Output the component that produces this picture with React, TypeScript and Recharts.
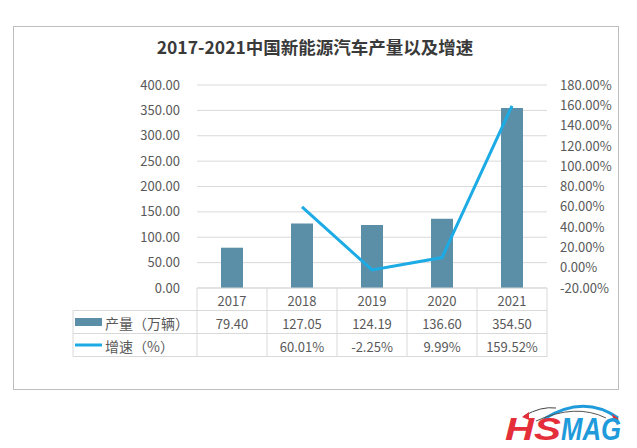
import React from 'react';
import { ComposedChart, Bar, Line, XAxis, YAxis, CartesianGrid } from 'recharts';

const title = '2017-2021中国新能源汽车产量以及增速';
const categories = ['2017', '2018', '2019', '2020', '2021'];
const outputValues = [79.4, 127.05, 124.19, 136.6, 354.5];
const growthValues: (number | null)[] = [null, 60.01, -2.25, 9.99, 159.52];
const leftTicks = [0, 50, 100, 150, 200, 250, 300, 350, 400];
const rightTicks = [-20, 0, 20, 40, 60, 80, 100, 120, 140, 160, 180];
const seriesNames = ['产量（万辆）', '增速（%）'];

const data = categories.map((c, i) => ({ year: c, output: outputValues[i], growth: growthValues[i] }));

const W = 637;
const H = 448;
const PLOT_L = 197;
const PLOT_R = 547;
const PLOT_T = 85;
const PLOT_B = 288;
const ROW1 = 310.5;
const ROW2 = 333.5;
const ROW3 = 356.5;
const LEG_L = 73;
const COL_W = (PLOT_R - PLOT_L) / categories.length;

const BAR_COLOR = '#5B8FA7';
const LINE_COLOR = '#1DABE6';
const TEXT = '#595959';
const GRID = '#d9d9d9';
const FONT = '"Noto Sans CJK SC", "Noto Sans", sans-serif';

const TableTick = (props: any) => {
  const { x, y, payload } = props;
  const i = payload.index;
  const g = growthValues[i];
  return (
    <g>
      <text x={x} y={(y + ROW1) / 2 + 1} textAnchor="middle" dominantBaseline="central" fontSize={13} fill={TEXT} fontFamily={FONT}>
        {payload.value}
      </text>
      <text x={x} y={(ROW1 + ROW2) / 2 + 1} textAnchor="middle" dominantBaseline="central" fontSize={13} fill={TEXT} fontFamily={FONT}>
        {outputValues[i].toFixed(2)}
      </text>
      {g !== null && (
        <text x={x} y={(ROW2 + ROW3) / 2 + 1} textAnchor="middle" dominantBaseline="central" fontSize={13} fill={TEXT} fontFamily={FONT}>
          {g.toFixed(2) + '%'}
        </text>
      )}
    </g>
  );
};

export default function App() {
  const colLines = categories.map((_, i) => PLOT_L + COL_W * (i + 1));
  return (
    <div style={{ position: 'absolute', left: 0, top: 0, width: W, height: H, background: '#fff', fontFamily: FONT, overflow: 'hidden' }}>
      <div style={{ position: 'absolute', left: 13, top: 26, width: 604, height: 362, border: '1px solid #bfbfbf' }} />
      <div style={{ position: 'absolute', left: 0, top: 0 }}>
        <ComposedChart width={W} height={H} data={data} margin={{ top: PLOT_T, right: 0, bottom: H - PLOT_B - 70, left: 0 }}>
          <CartesianGrid yAxisId="left" vertical={false} stroke={GRID} />
          <XAxis
            dataKey="year"
            height={70}
            axisLine={{ stroke: GRID }}
            tickLine={false}
            tickSize={0}
            tickMargin={0}
            interval={0}
            tick={<TableTick />}
          />
          <YAxis
            yAxisId="left"
            width={PLOT_L}
            domain={[0, 400]}
            ticks={leftTicks}
            interval={0}
            tickFormatter={(v: number) => v.toFixed(2)}
            axisLine={false}
            tickLine={false}
            tickSize={0}
            tickMargin={17}
            tick={{ fill: TEXT, fontSize: 13 }}
          />
          <YAxis
            yAxisId="right"
            orientation="right"
            width={W - PLOT_R}
            domain={[-20, 180]}
            ticks={rightTicks}
            interval={0}
            tickFormatter={(v: number) => v.toFixed(2) + '%'}
            axisLine={false}
            tickLine={false}
            tickSize={0}
            tickMargin={13}
            tick={{ fill: TEXT, fontSize: 13 }}
          />
          <Bar yAxisId="left" dataKey="output" fill={BAR_COLOR} barSize={22} isAnimationActive={false} />
          <Line yAxisId="right" dataKey="growth" stroke={LINE_COLOR} strokeWidth={3} dot={false} connectNulls={false} isAnimationActive={false} />
        </ComposedChart>
      </div>
      <svg width={W} height={H} style={{ position: 'absolute', left: 0, top: 0, pointerEvents: 'none' }}>
        <text x={315} y={46} textAnchor="middle" dominantBaseline="central" fontSize={17.5} fontWeight="bold" fill="#3a3a3a" fontFamily={FONT}>
          {title}
        </text>
        {/* table frame */}
        <line x1={LEG_L} x2={PLOT_R} y1={ROW1} y2={ROW1} stroke={GRID} />
        <line x1={LEG_L} x2={PLOT_R} y1={ROW2} y2={ROW2} stroke={GRID} />
        <line x1={LEG_L} x2={PLOT_R} y1={ROW3} y2={ROW3} stroke={GRID} />
        <line x1={LEG_L} x2={LEG_L} y1={ROW1} y2={ROW3} stroke={GRID} />
        <line x1={PLOT_L} x2={PLOT_L} y1={PLOT_B} y2={ROW3} stroke={GRID} />
        {colLines.map((x, i) => (
          <line key={i} x1={x} x2={x} y1={PLOT_B} y2={ROW3} stroke={GRID} />
        ))}
        {/* legend */}
        <rect x={75} y={318} width={27} height={8} fill={BAR_COLOR} />
        <text x={105} y={(ROW1 + ROW2) / 2 + 1} dominantBaseline="central" fontSize={14} fill={TEXT} fontFamily={FONT}>
          {seriesNames[0]}
        </text>
        <line x1={75} x2={102} y1={345} y2={345} stroke={LINE_COLOR} strokeWidth={3} />
        <text x={105} y={(ROW2 + ROW3) / 2 + 1} dominantBaseline="central" fontSize={14} fill={TEXT} fontFamily={FONT}>
          {seriesNames[1]}
        </text>
        {/* logo */}
        <path d="M544 419 Q584 394 618 418" fill="none" stroke="#1F9BDB" strokeWidth={3} />
        <path d="M536 421 Q576 403 606 418" fill="none" stroke="#555" strokeWidth={1} />
        <path d="M524 416 Q541 406 556 408" fill="none" stroke="#444" strokeWidth={1} />
        <polygon points="522,417 529,412 529,420" fill="#E42F3B" />
        <polygon points="619,419 612,414 614,422" fill="#E42F3B" />
        <g fontFamily='"Liberation Sans", Arial, sans-serif' fontWeight="bold" fontStyle="italic" fontSize={32}>
          <text x={505} y={440} fill="#E42F3B" textLength={56} lengthAdjust="spacingAndGlyphs">HS</text>
          <text x={561} y={440} fill="#1F9BDB" textLength={60} lengthAdjust="spacingAndGlyphs">MAG</text>
        </g>
      </svg>
    </div>
  );
}
